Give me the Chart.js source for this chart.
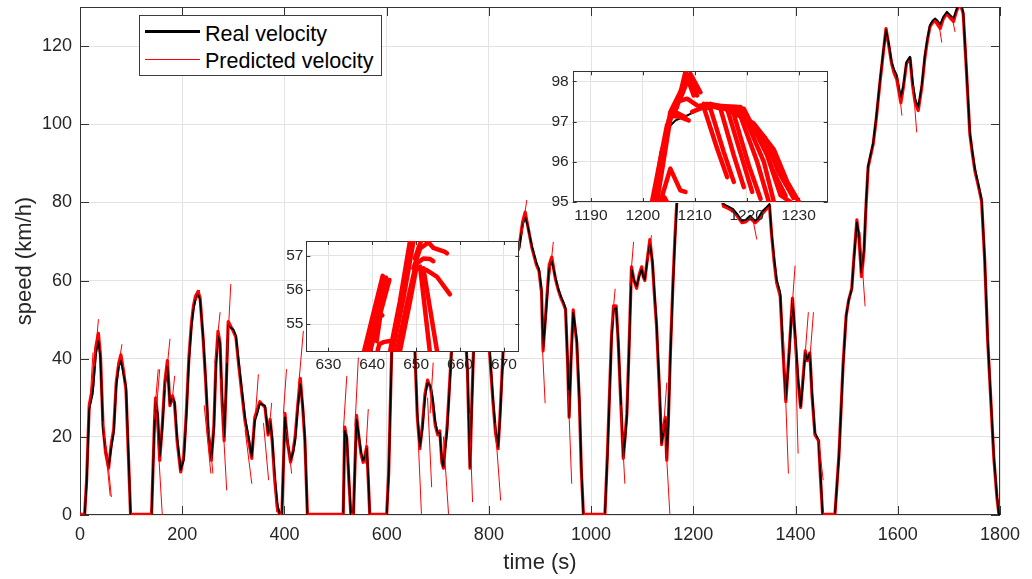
<!DOCTYPE html>
<html>
<head>
<meta charset="utf-8">
<script src="https://cdn.jsdelivr.net/npm/chart.js@4.4.1/dist/chart.umd.min.js"></script>
<style>
html,body{margin:0;padding:0;background:#fff;}
#wrap{position:relative;width:1032px;height:579px;overflow:hidden;font-family:"Liberation Sans",Arial,Helvetica,sans-serif;}
#wrap canvas{position:absolute;}
#legend{position:absolute;left:139px;top:15px;width:241px;height:59px;border:1px solid #3c3c3c;background:#fff;}
#legend .ln{position:absolute;left:5px;width:55px;}
#legend .tx{position:absolute;left:65px;font-size:21.5px;line-height:24px;color:#000;white-space:nowrap;}
</style>
</head>
<body>
<div id="wrap">
  <canvas id="main" width="1032" height="579" style="left:0;top:0;width:1032px;height:579px"></canvas>
  <canvas id="inset1" width="270" height="150" style="left:260px;top:230px;width:270px;height:150px"></canvas>
  <canvas id="inset2" width="310" height="170" style="left:530px;top:60px;width:310px;height:170px"></canvas>
  <div id="legend">
    <div class="ln" style="top:14px;height:3px;background:#000"></div>
    <div class="tx" style="top:6px">Real velocity</div>
    <div class="ln" style="top:43px;height:1px;background:#ff0000"></div>
    <div class="tx" style="top:33px">Predicted velocity</div>
  </div>
</div>
<script>
// ---------------- data ----------------
const xTicks = [0,200,400,600,800,1000,1200,1400,1600,1800];
const yTicks = [0,20,40,60,80,100,120];

// real velocity [time s, speed km/h]
const realVelocity = [
[0,0],[9,0],[13,8],[18,27],[25,31],[31,41],[36,44.5],[40,40],[45,22],[50,17],[56,12.4],[61,17],[66,21],[71,33],[76,38],[80,39.5],[85,36],[90,33],[95,15],[99,0],
[140,0],[146,24],[148,29],[152,26],[156,15],[161,22],[166,33],[171,38],[176,28.5],[181,30],[185,29],[190,20],[197,11.6],[203,14],[208,25],[213,39],[218,48],[222,52.5],[226,55],[231,56.5],[235,55],[241,45.5],[246,35],[251,22],[257,14.5],[262,22],[266,38],[270,45.8],[274,44],[278,30],[282,20],[286,32],[290,48.5],[294,48],[300,47.5],[305,46],[310,40],[316,33],[323,25],[330,20],[336,15],[342,24],[347,26],[352,28.5],[362,28],[368,21],[372,24],[376,20],[381,10],[386,3],[391,0],
[395,0],[401,25],[406,19],[412,14],[417,16],[421,19],[426,27],[431,33.5],[436,28],[440,20],[445,0],
[515,0],[518,21.5],[522,20],[526,10],[530,0],[535,0],[541,24.4],[546,20],[550,16],[554,14],[558,15],[561,17],[564,10],[567,0],
[600,0],[604,10],[610,42],[615,47],[622,49],[630,50],[637,51],[642,54],[646,56.5],[650,57.3],[653,55],[656,40],[660,26],[665,17.5],[670,22],[675,30],[680,33.8],[686,33],[690,30],[695,24],[700,21],[704,21],[708,14],[711,12.4],[714,16],[718,21],[722,30],[727,41.5],[735,49],[742,51],[750,49],[755,45],[758,38],[763,12.4],[766,25],[770,41.5],[778,50],[788,53],[796,50],[802,41.5],[808,30],[813,22],[818,17.5],[822,25],[828,41.5],[835,53],[845,62],[852,66],[859,68],[866,74],[871,76.2],[876,74],[884,69],[893,64.6],[898,63],[903,57.8],[906,42.4],[912,52],[918,63],[923,65],[930,61],[936,57.8],[941,56],[946,54.4],[950,53],[954,40],[957,25.2],[961,40],[965,51.8],[968,49],[972,45],[977,30],[981,12],[985,0],
[1027,0],[1032,15],[1036,30],[1040,45],[1044,52.6],[1049,53],[1053,45],[1058,30],[1063,15],[1067,20],[1070,25],[1075,45],[1079,62.9],[1084,60],[1089,58.6],[1094,61],[1099,62.9],[1102,61],[1105,60.3],[1110,65],[1115,69.3],[1120,65],[1124,57],[1128,49.2],[1133,35],[1138,18.4],[1141,21],[1145,24.4],[1148,14.6],[1151,23],[1155,40],[1160,58],[1164,70],[1168,80],[1175,86],[1182,90],[1190,93],[1196,94.3],[1202,95],[1203.4,96.24],[1204.7,96.82],[1206.3,97.03],[1208.5,97.15],[1211.7,97.36],[1217.5,97.36],[1221.4,96.95],[1224,96.41],[1225.9,95.75],[1227.8,95.33],[1230,95],[1236,93],[1243,89],[1250,85],[1259,79.6],[1268,79],[1278,78.3],[1286,77],[1295,75.3],[1302,75.5],[1311,76.6],[1321,75.3],[1327,76],[1334,77.6],[1341,78.5],[1349,79.6],[1353,72.4],[1358,66],[1363,60.3],[1370,57],[1375,44],[1381,29.5],[1388,42],[1394,55.2],[1400,45],[1405,35],[1410,27.8],[1414,33],[1419,41.5],[1423,39.8],[1428,41.5],[1432,32],[1438,21],[1445,19.3],[1449,10],[1453,0],
[1477,0],[1485,15],[1493,38.1],[1499,50.9],[1504,55],[1510,57.8],[1514,65],[1520,74.9],[1524,72],[1529,62],[1534,68],[1538,80],[1542,89.4],[1552,95.4],[1558,102],[1565,110.9],[1571,118],[1577,124.1],[1582,121],[1588,116],[1593,114],[1598,112.6],[1606,107],[1611,110],[1617,116],[1624,117.3],[1629,111],[1634,106.6],[1640,104.4],[1647,110],[1653,117.7],[1658,122],[1663,125.4],[1668,126.5],[1673,127.1],[1678,126.5],[1683,125.6],[1689,127.5],[1696,128.8],[1702,128],[1709,127.1],[1715,129.5],[1722,131.3],[1728,128.8],[1734,115],[1741,98],[1746,93],[1751,88.6],[1758,84.5],[1764,80.9],[1770,66],[1776,45],[1782,30],[1788,15],[1794,5],[1798,0],[1800,0]
];

// predicted velocity trace (red bundle hugging the real curve)
const predictedVelocity = [
[9,0],[13,9],[18,28],[25,33],[31,43],[36,46.5],[40,41],[45,23],[50,16],[56,12],[61,18],[66,22],[71,34],[76,39],[80,41],[85,37],[90,32],[95,14],[99,0],
[140,0],[146,25],[148,30],[152,25],[156,14],[161,23],[166,34],[171,39.5],[176,28],[181,30.5],[185,28.5],[190,19],[197,11],[203,15],[208,26],[213,40],[218,49],[222,53.5],[226,56],[231,57.2],[235,55.5],[241,45],[246,34],[251,21],[257,14],[262,23],[266,39],[270,47],[274,44],[278,29],[282,19],[286,33],[290,49.5],[294,48.5],[300,47],[305,45.5],[310,39],[316,32],[323,24],[330,19],[336,14.5],[342,25],[347,27],[352,29],[362,27.5],[368,20.5],[372,24.5],[376,19],[381,9],[386,2],[391,0],
[395,0],[401,26],[406,18.5],[412,13.5],[417,16.5],[421,20],[426,28],[431,35],[436,27],[440,19],[445,0],
[515,0],[518,22.5],[522,19.5],[526,9],[530,0],[535,0],[541,25.5],[546,19.5],[550,15.5],[554,13.5],[558,15.5],[561,17.5],[564,9],[567,0],
[600,0],[604,11],[610,43],[615,47.5],[622,49],[630,50],[637,51.5],[642,54.5],[646,57],[650,57.5],[653,54.5],[656,39],[660,25],[665,17],[670,23],[675,31],[680,34.5],[686,32.5],[690,29],[695,23],[700,20.5],[704,21.5],[708,13.5],[711,12],[714,17],[718,22],[722,31],[727,42.5],[735,49.5],[742,51],[750,48.5],[755,44],[758,37],[763,12],[766,26],[770,42.5],[778,50.5],[788,53],[796,49.5],[802,40.5],[808,29],[813,21],[818,17],[822,26],[828,42.5],[835,54],[845,62.5],[852,66.5],[859,68.5],[866,75],[871,77.5],[876,74],[884,68.5],[893,64],[898,62.5],[903,57],[906,42],[912,53],[918,64],[923,66],[930,60.5],[936,57.5],[941,55.5],[946,54],[950,52.5],[954,39],[957,25],[961,41],[965,52.5],[968,48.5],[972,44],[977,29],[981,11],[985,0],
[1027,0],[1032,16],[1036,31],[1040,46],[1044,53.5],[1049,53.5],[1053,44.5],[1058,29],[1063,14.5],[1067,21],[1070,26],[1075,46],[1079,63.5],[1084,60],[1089,58],[1094,61.5],[1099,63.5],[1102,61],[1105,60],[1110,65.5],[1115,70.5],[1120,64.5],[1124,56],[1128,48.5],[1133,34],[1138,18],[1141,21.5],[1145,25],[1148,14],[1151,23.5],[1155,41],[1160,59],[1164,71],[1168,81],[1175,86.5],[1182,90.5],[1190,93],[1196,94.5],[1202,95.3],[1206,97.2],[1212,97.6],[1218,97.3],[1224,96.3],[1230,94.8],[1236,92.5],[1243,88.5],[1250,84.5],[1259,79],[1268,78.5],[1278,77.8],[1286,76.5],[1295,74.8],[1302,75],[1311,76],[1321,74.8],[1327,75.5],[1334,77],[1341,78],[1349,79.2],[1353,72],[1358,65],[1363,59.5],[1370,56],[1375,43],[1381,29],[1388,43],[1394,55.5],[1400,44],[1405,34],[1410,27.5],[1414,34],[1419,42],[1423,39.5],[1428,41.5],[1432,31],[1438,20.5],[1445,19],[1449,9],[1453,0],
[1477,0],[1485,15.5],[1493,38.5],[1499,51],[1504,55],[1510,58],[1514,65.5],[1520,75.5],[1524,71],[1529,61],[1534,67.5],[1538,79.5],[1542,89],[1552,95],[1558,101.5],[1565,110.5],[1571,117.5],[1577,124.5],[1582,120.5],[1588,115.5],[1593,113],[1598,111.5],[1606,105.5],[1611,109.5],[1617,115.5],[1624,117],[1629,110],[1634,105.5],[1640,103.5],[1647,109.5],[1653,117],[1658,121.5],[1663,125],[1668,126],[1673,126.5],[1678,125.5],[1683,124.5],[1689,127],[1696,128.3],[1702,127.3],[1709,126.3],[1715,129],[1722,131],[1728,128.3],[1734,114.5],[1741,97.5],[1746,92.5],[1751,88],[1758,84],[1764,80.3],[1770,65.5],[1776,44.5],[1782,29.5],[1788,14.5],[1794,4.5],[1798,0]
];

// predicted trajectories that stand out from the bundle [t0, v0, t1, v1]
const predictionSpikes = [
[28,38,36,50],[19,27.8,25.4,41.5],[45,24,59,5],[51.5,17.5,61.3,4.7],[75,38,82,43.6],[145,24.4,153,37.2],[149.4,26.9,155.9,37.2],[150,24.4,161,0],[166,32,176,45],[180,29,185.2,35.5],
[227,55,234,57.5],[243,28,256,10.7],[252,22,260,10.7],[264,39,274,51.8],[275,34.7,287,6.4],[287,39,295,59],[323,21.8,336,8.1],
[343,25,349,35.9],[359,23.5,369,9],[370,22,375,28.6],[378,14,384.8,0.8],[398,26,404,37.2],[404,22,414,10.7],[427,32,437,47],[515,21,522,35.5],
[538,22.7,544.6,40.2],[558,13.2,564,27],[662,18.4,668,0.4],[685,26.1,691,38.9],[680,30,688,7.2],[711,20,721,0.4],[762,26,768,3.4],
[812,23.5,823,3.8],[864,71.5,874,80.5],[903,47.5,910,28.7],[919,61.2,926,69.8],[955,32,962,8.1],[1040,47.5,1047,57.8],
[1058,28,1066,8.1],[1076,58.6,1083,69.8],[1111,65,1118,71.5],[1144,23.5,1154,0.4],[1141,21,1148,33.8],[1316,76,1324,70.6],
[1376,46.6,1386,10.7],[1392,50.9,1399,63.7],[1399,45,1405,15.8],[1418,39.8,1425,51.8],[1428,40,1435,51.8],[1445,19.3,1454,9],[1526,72.3,1536,53.5],
[1600,112,1608,102.3],[1630,110,1637,98],[1680,126,1686,121],[1706,127.5,1712,123.7]
];

// stop phases where predictions sit at 0
const stopStart = [0,99,391,445,530,567,985,1453];
const stopEnd   = [9,140,395,515,535,600,1027,1477];

// inset 1 (t 625-673.5 s, 54.19-57.43 km/h)
const inset1XTicks = [630,640,650,660,670];
const inset1YTicks = [55,56,57];
const inset1Lines = [
[[638.13,54.2],[642.38,56.41]],
[[638.74,54.2],[643.14,56.36]],
[[639.5,54.2],[643.9,56.29]],
[[641.0,54.5],[641.9,55.3],[642.3,55.25]],
[[641.2,54.2],[641.6,54.41],[642.5,54.47],[644.4,54.51]],
[[644.05,54.2],[646.3,55.66],[648.6,57.43],[649,57.8]],
[[644.66,54.2],[647.1,55.75],[649.4,57.43],[649.8,57.8]],
[[645.6,54.2],[647.85,55.56],[649.75,56.63]],
[[646.3,54.2],[648.6,55.66],[650.1,56.68]],
[[649.4,56.63],[650.9,57.21],[652.8,57.39],[653.9,57.23],[656.6,57.11],[657,57.07]],
[[649.75,56.73],[651.65,56.92],[653.2,56.9],[653.9,56.84]],
[[650.1,56.63],[652.4,56.58],[654.7,56.39],[657.7,55.87]],
[[649.75,56.92],[650.5,57.21],[651.3,57.5]],
[[650.9,56.68],[653.2,54.1]],
[[651.65,56.63],[654.9,54.1]]
];

// inset 2 (t 1186.5-1235.6 s, 95-98.25 km/h)
const inset2XTicks = [1190,1200,1210,1220,1230];
const inset2YTicks = [95,96,97,98];
const inset2Real = [[1201.8,95],[1203.4,96.24],[1204.7,96.82],[1206.3,97.03],[1208.5,97.15],[1211.7,97.36],[1217.5,97.36],[1221.4,96.95],[1224,96.41],[1225.9,95.75],[1227.8,95.33],[1230,95]];
const inset2Lines = [
[[1201.76,95],[1204.66,96.91],[1206.59,97.36],[1208.2,98.23],[1209.48,97.98],[1210.45,97.65]],
[[1202.09,95],[1204.98,97.03],[1207.23,97.57],[1209.16,98.19],[1211.09,97.73]],
[[1202.41,95],[1205.3,97.24],[1207.55,97.82],[1208.39,98.15],[1209.8,97.65]],
[[1202.73,95],[1205.3,97.07],[1206.59,97.49],[1208.52,97.57],[1210.45,97.4]],
[[1205.3,97.15],[1207.23,97.11],[1208.84,97.03]],
[[1206.27,97.24],[1208.2,97.11]],
[[1203.37,95],[1205.3,95.83],[1207.23,95.29],[1208.2,95.25]],
[[1203.69,95],[1204.14,95.12],[1204.66,95]],
[[1209.48,97.24],[1211.73,97.36],[1214.31,96.33],[1216.24,95.62]],
[[1211.09,97.4],[1213.02,97.32],[1215.59,96.24],[1217.52,95.5]],
[[1211.73,97.44],[1214.95,97.32],[1217.52,96.16],[1219.45,95.37]],
[[1212.38,97.44],[1216.24,97.32],[1219.13,96.08],[1221.06,95.25]],
[[1213.02,97.44],[1217.2,97.32],[1220.41,95.91],[1222.67,95.08]],
[[1213.66,97.4],[1218.16,97.36],[1222.02,96.0],[1224.27,95.0]],
[[1214.31,97.36],[1218.81,97.36],[1223.31,96.0],[1225.24,95.0]],
[[1214.95,97.36],[1219.45,97.32],[1223.95,96.16],[1226.52,95.17],[1228.45,95.0]],
[[1215.5,97.34],[1220,97.05],[1222.8,96.6],[1225,95.8],[1227.5,95.15]],
[[1217,97.3],[1220.5,97.0],[1223.5,96.6],[1226,95.8],[1229,95.1]],
[[1216.24,97.32],[1221.38,96.95],[1225.24,96.3],[1227.81,95.5],[1230.06,95.0]]
];

// ---------------- helpers ----------------
const FONT = '"Liberation Sans", Arial, Helvetica, sans-serif';
const TXT = '#262626';
const toXY = pts => pts.map(p => ({x: p[0], y: p[1]}));
function spikeData(segs){
  const out = [];
  segs.forEach(s => { out.push({x:s[0],y:s[1]},{x:s[2],y:s[3]},{x:s[2],y:null}); });
  return out;
}
function stopData(a, b){
  const out = [];
  a.forEach((s,i) => { out.push({x:s,y:0},{x:b[i],y:0},{x:b[i],y:null}); });
  return out;
}

const axesBox = {
  id: 'axesBox',
  beforeDraw(chart, args, o){
    if (o.fill){
      const a = chart.chartArea, c = chart.ctx;
      c.save(); c.fillStyle = o.fill; c.fillRect(a.left, a.top, a.width, a.height); c.restore();
    }
  },
  beforeDatasetsDraw(chart, args, o){
    const c = chart.ctx, a = chart.chartArea, x = chart.scales.x, y = chart.scales.y, L = o.len;
    c.save();
    c.strokeStyle = o.color; c.lineWidth = 1;
    c.beginPath();
    x.ticks.forEach(t => {
      const p = Math.round(x.getPixelForValue(t.value)) + 0.5;
      c.moveTo(p, a.bottom); c.lineTo(p, a.bottom - L);
      c.moveTo(p, a.top); c.lineTo(p, a.top + L);
    });
    y.ticks.forEach(t => {
      const p = Math.round(y.getPixelForValue(t.value)) + 0.5;
      c.moveTo(a.left, p); c.lineTo(a.left + L, p);
      c.moveTo(a.right, p); c.lineTo(a.right - L, p);
    });
    c.stroke();
    c.strokeRect(Math.round(a.left) + 0.5, Math.round(a.top) + 0.5, Math.round(a.width) - 1, Math.round(a.height) - 1);
    c.restore();
  }
};

function scaleX(min, max, ticks, h, fs, pad, title){
  return {
    type: 'linear', min, max,
    afterBuildTicks: s => { s.ticks = ticks.map(v => ({value: v})); },
    afterFit: s => { s.height = h; s.paddingLeft = 0; s.paddingRight = 0; },
    grid: {color: '#e3e3e3', drawTicks: false, lineWidth: 1},
    border: {display: false},
    ticks: {font: {size: fs, family: FONT}, color: TXT, padding: pad, maxRotation: 0, autoSkip: false, callback: v => String(v)},
    title: title || {display: false}
  };
}
function scaleY(min, max, ticks, w, fs, pad, title){
  return {
    type: 'linear', min, max,
    afterBuildTicks: s => { s.ticks = ticks.map(v => ({value: v})); },
    afterFit: s => { s.width = w; s.paddingTop = 0; s.paddingBottom = 0; },
    grid: {color: '#e3e3e3', drawTicks: false, lineWidth: 1},
    border: {display: false},
    ticks: {font: {size: fs, family: FONT}, color: TXT, padding: pad, autoSkip: false, callback: v => String(v)},
    title: title || {display: false}
  };
}
const common = {
  responsive: false, animation: false, events: [],
  spanGaps: false,
  elements: {point: {radius: 0}, line: {tension: 0, borderCapStyle: 'round', borderJoinStyle: 'round', fill: false}},
};

// ---------------- main chart ----------------
new Chart(document.getElementById('main'), {
  type: 'line',
  data: {datasets: [
    {label: 'spikes', data: spikeData(predictionSpikes), borderColor: '#ff0000', borderWidth: 1, order: 0},
    {label: 'stops', data: stopData(stopStart, stopEnd), borderColor: '#ff0000', borderWidth: 4.5, order: 1, borderCapStyle: 'butt'},
    {label: 'Real velocity', data: toXY(realVelocity), borderColor: '#000000', borderWidth: 1.8, order: 2},
    {label: 'Predicted velocity', data: toXY(predictedVelocity), borderColor: '#ff0000', borderWidth: 3.2, order: 3}
  ]},
  options: Object.assign({}, common, {
    layout: {padding: {top: 7, right: 32, left: 0, bottom: 0}},
    plugins: {legend: {display: false}, tooltip: {enabled: false}, axesBox: {len: 9, color: '#333333'}},
    scales: {
      x: scaleX(0, 1800, xTicks, 64, 18, 9, {display: true, text: 'time (s)', color: TXT, font: {size: 22, family: FONT}, padding: {top: 0, bottom: 3}}),
      y: scaleY(0, 130, yTicks, 80, 18, 8, {display: true, text: 'speed (km/h)', color: TXT, font: {size: 22, family: FONT}, padding: {top: 12, bottom: 0}})
    }
  }),
  plugins: [axesBox]
});

// ---------------- inset 1 ----------------
new Chart(document.getElementById('inset1'), {
  type: 'line',
  data: {datasets: inset1Lines.map((ln, i) => ({label: 'p' + i, data: toXY(ln), borderColor: '#ff0000', borderWidth: 4.5}))},
  options: Object.assign({}, common, {
    layout: {padding: {top: 11, right: 10.7, left: 0, bottom: 0}},
    plugins: {legend: {display: false}, tooltip: {enabled: false}, axesBox: {len: 4, color: '#333333', fill: '#ffffff'}},
    scales: {
      x: scaleX(625, 673.5, inset1XTicks, 28.3, 15.5, 4),
      y: scaleY(54.19, 57.43, inset1YTicks, 46.4, 15.5, 3)
    }
  }),
  plugins: [axesBox]
});

// ---------------- inset 2 ----------------
new Chart(document.getElementById('inset2'), {
  type: 'line',
  data: {datasets: inset2Lines.map((ln, i) => ({label: 'p' + i, data: toXY(ln), borderColor: '#ff0000', borderWidth: 4.5, order: 0}))
    .concat([{label: 'real', data: toXY(inset2Real), borderColor: '#000000', borderWidth: 2, order: 5}])},
  options: Object.assign({}, common, {
    layout: {padding: {top: 11.3, right: 12.3, left: 0, bottom: 0}},
    plugins: {legend: {display: false}, tooltip: {enabled: false}, axesBox: {len: 4, color: '#333333', fill: '#ffffff'}},
    scales: {
      x: scaleX(1186.5, 1235.6, inset2XTicks, 28, 15.5, 4),
      y: scaleY(95, 98.25, inset2YTicks, 42.7, 15.5, 4)
    }
  }),
  plugins: [axesBox]
});
</script>
</body>
</html>
